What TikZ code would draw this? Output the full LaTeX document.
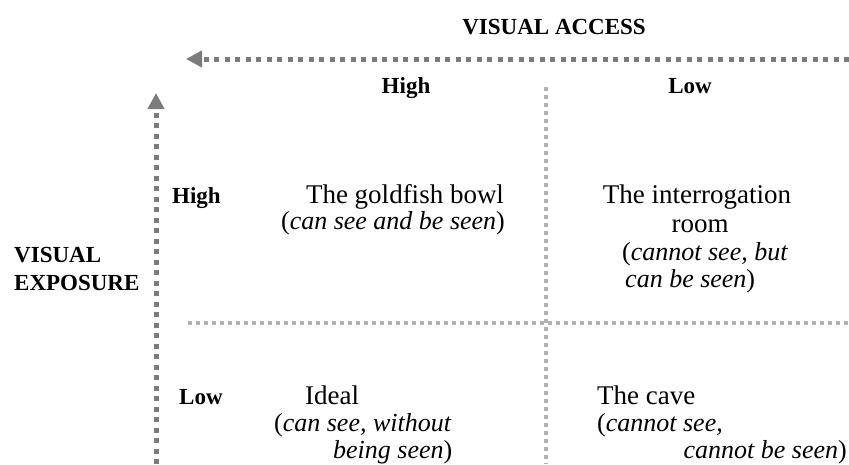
\documentclass[tikz,border=0pt]{standalone}
\usepackage{fontspec}
\setmainfont{Liberation Serif}
\usetikzlibrary{arrows.meta}

\begin{document}
\begin{tikzpicture}[
    x=1pt, y=-1pt,
    axis/.style={gray!85!black!90, line width=5pt, dash pattern=on 5pt off 5.5pt, -{Triangle[length=16pt, width=16pt]}},
    grid/.style={gray!60, line width=4pt, dash pattern=on 4pt off 4pt},
    head/.style={font=\fontsize{23}{26}\selectfont\bfseries, inner sep=0pt},
    cell/.style={font=\fontsize{27}{28}\selectfont, inner sep=0pt},
    note/.style={font=\fontsize{26}{28}\selectfont\itshape, inner sep=0pt}
]
\useasboundingbox (0,0) rectangle (849,464);

% === Axes ===
\coordinate (access_start) at (849, 59);
\coordinate (access_end) at (186, 59);
\coordinate (exposure_start) at (156, 464);
\coordinate (exposure_end) at (156, 93);
\draw[axis] (access_start) -- (access_end);
\draw[axis] (exposure_start) -- (exposure_end);

\node[head, anchor=base east] (access) at (646, 34) {VISUAL ACCESS};
\node[head, anchor=base west] (exposure1) at (14, 262) {VISUAL};
\node[head, anchor=base west] (exposure2) at (14, 290) {EXPOSURE};

% Column and row headings
\node[head, anchor=base] (col_high) at (406, 93) {High};
\node[head, anchor=base] (col_low) at (690, 93) {Low};
\node[head, anchor=base west] (row_high) at (172, 203) {High};
\node[head, anchor=base west] (row_low) at (179, 404) {Low};

% === Grid lines ===
\coordinate (vtop) at (546, 87);
\coordinate (vbot) at (546, 464);
\coordinate (hleft) at (188, 323);
\coordinate (hright) at (849, 323);
\draw[grid] (vtop) -- (vbot);
\draw[grid] (hleft) -- (hright);

% === Cells ===
% high / high
\node[cell, anchor=base] (goldfish) at (405, 203) {The goldfish bowl};
\node[note, anchor=base] (goldfish_note) at (393, 229) {{\upshape(}can see and be seen{\upshape)}};

% high / low
\node[cell, anchor=base] (interrogation) at (697, 203) {The interrogation};
\node[cell, anchor=base] (room) at (700, 232) {room};
\node[note, anchor=base west] (interrogation_note1) at (622, 260) {{\upshape(}cannot see, but};
\node[note, anchor=base west] (interrogation_note2) at (625, 287) {can be seen{\upshape)}};

% low / high
\node[cell, anchor=base west] (ideal) at (305, 404) {Ideal};
\node[note, anchor=base west] (ideal_note1) at (274, 431) {{\upshape(}can see, without};
\node[note, anchor=base west] (ideal_note2) at (333, 458) {being seen{\upshape)}};

% low / low
\node[cell, anchor=base west] (cave) at (597, 404) {The cave};
\node[note, anchor=base west] (cave_note1) at (597, 431) {{\upshape(}cannot see,};
\node[note, anchor=base east] (cave_note2) at (847, 458) {cannot be seen{\upshape)}};

\end{tikzpicture}
\end{document}
